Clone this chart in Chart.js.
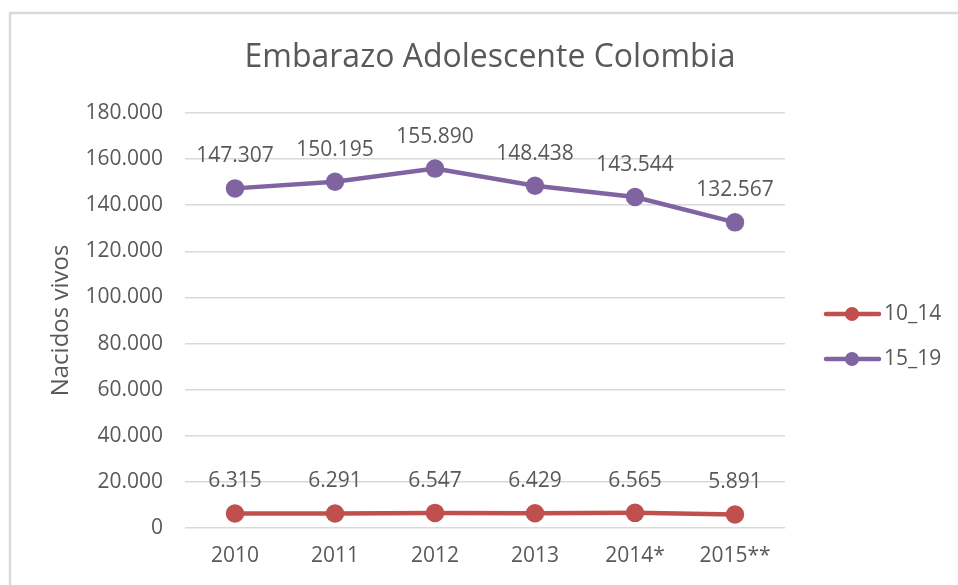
<!DOCTYPE html>
<html>
<head>
<meta charset="utf-8">
<script src="https://cdn.jsdelivr.net/npm/chart.js@4/dist/chart.umd.min.js"></script>
<style>
  html, body { margin: 0; padding: 0; background: #ffffff; }
  #wrap { width: 958px; height: 585px; position: relative; }
</style>
</head>
<body>
<div id="wrap"><canvas id="c" width="958" height="585"></canvas></div>
<script>
const chartTitle = 'Embarazo Adolescente Colombia';
const yAxisTitle = 'Nacidos vivos';
const categories = ['2010', '2011', '2012', '2013', '2014*', '2015**'];
const seriesNames = ['10_14', '15_19'];
const values10_14 = [6315, 6291, 6547, 6429, 6565, 5891];
const values15_19 = [147307, 150195, 155890, 148438, 143544, 132567];
const yMin = 0, yMax = 180000, yStep = 20000;

const FONT = '"Open Sans", "Noto Sans", sans-serif';
const TEXT = '#595959';
const GRID = '#d9d9d9';
const RED = '#C0504D';
const PURPLE = '#8064A2';

function fmt(v) {
  return String(Math.round(v)).replace(/\B(?=(\d{3})+(?!\d))/g, '.');
}

const bgAndFrame = {
  id: 'bgAndFrame',
  beforeDraw(chart) {
    const ctx = chart.ctx;
    ctx.save();
    ctx.fillStyle = '#ffffff';
    ctx.fillRect(0, 0, chart.width, chart.height);
    ctx.strokeStyle = GRID;
    ctx.lineWidth = 2.5;
    ctx.beginPath();
    ctx.moveTo(10, chart.height + 5);
    ctx.lineTo(10, 13);
    ctx.lineTo(chart.width + 5, 13);
    ctx.stroke();
    // title
    ctx.fillStyle = TEXT;
    ctx.font = '32px ' + FONT;
    ctx.textAlign = 'center';
    ctx.textBaseline = 'middle';
    ctx.fillText(chartTitle, 490, 58);
    ctx.restore();
  }
};

const dataLabels = {
  id: 'dataLabels',
  afterDatasetsDraw(chart) {
    const ctx = chart.ctx;
    ctx.save();
    ctx.fillStyle = TEXT;
    ctx.font = '21px ' + FONT;
    ctx.textAlign = 'center';
    ctx.textBaseline = 'middle';
    chart.data.datasets.forEach((ds, i) => {
      const meta = chart.getDatasetMeta(i);
      meta.data.forEach((pt, j) => {
        ctx.fillText(fmt(ds.data[j]), pt.x, pt.y - 32);
      });
    });
    ctx.restore();
  }
};

const customLegend = {
  id: 'customLegend',
  afterDraw(chart) {
    const ctx = chart.ctx;
    ctx.save();
    const ys = [314, 359];
    chart.data.datasets.forEach((ds, i) => {
      const y = ys[i];
      ctx.strokeStyle = ds.borderColor;
      ctx.lineWidth = 4.5;
      ctx.lineCap = 'round';
      ctx.beginPath();
      ctx.moveTo(826, y);
      ctx.lineTo(879, y);
      ctx.stroke();
      ctx.fillStyle = ds.borderColor;
      ctx.beginPath();
      ctx.arc(852, y, 7, 0, Math.PI * 2);
      ctx.fill();
      ctx.fillStyle = TEXT;
      ctx.font = '21px ' + FONT;
      ctx.textAlign = 'left';
      ctx.textBaseline = 'middle';
      ctx.fillText(ds.label, 884, y);
    });
    ctx.restore();
  }
};

new Chart(document.getElementById('c'), {
  type: 'line',
  data: {
    labels: categories,
    datasets: [
      {
        label: seriesNames[0], data: values10_14,
        borderColor: RED, backgroundColor: RED,
        pointBackgroundColor: RED, pointBorderColor: RED,
        borderWidth: 4.5, pointRadius: 7, tension: 0
      },
      {
        label: seriesNames[1], data: values15_19,
        borderColor: PURPLE, backgroundColor: PURPLE,
        pointBackgroundColor: PURPLE, pointBorderColor: PURPLE,
        borderWidth: 4.5, pointRadius: 7, tension: 0
      }
    ]
  },
  options: {
    responsive: false,
    animation: false,
    events: [],
    layout: { padding: { top: 113, right: 173, bottom: 15, left: 0 } },
    plugins: { legend: { display: false }, title: { display: false }, tooltip: { enabled: false } },
    scales: {
      x: {
        offset: true,
        grid: { display: false, drawTicks: false },
        border: { display: false },
        ticks: { color: TEXT, font: { family: FONT, size: 21 }, padding: 15, maxRotation: 0, autoSkip: false },
        afterFit(scale) { scale.height = 42; }
      },
      y: {
        min: yMin, max: yMax,
        grid: { color: GRID, lineWidth: 1.5, drawTicks: false },
        border: { display: false },
        ticks: { stepSize: yStep, color: TEXT, font: { family: FONT, size: 21 }, padding: 22, callback: v => fmt(v) },
        title: { display: true, text: yAxisTitle, color: TEXT, font: { family: FONT, size: 24 }, padding: { top: 47, bottom: 0 } },
        afterFit(scale) { scale.width = 185; }
      }
    }
  },
  plugins: [bgAndFrame, dataLabels, customLegend]
});
</script>
</body>
</html>
